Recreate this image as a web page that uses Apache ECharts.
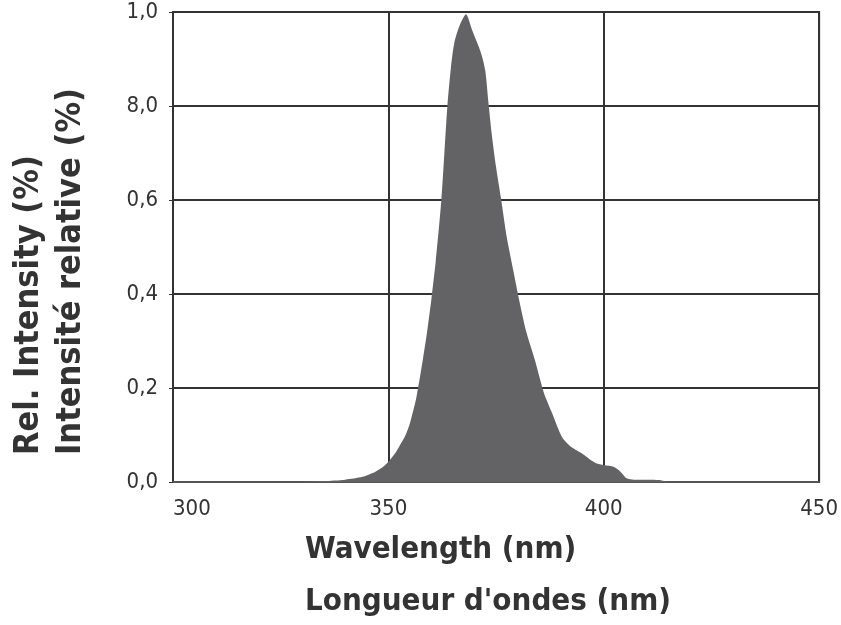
<!DOCTYPE html>
<html>
<head>
<meta charset="utf-8">
<script src="https://cdn.jsdelivr.net/npm/echarts@6/dist/echarts.min.js"></script>
<style>
  html, body { margin: 0; padding: 0; background: #fff; }
  #chart { width: 841px; height: 625px; }
</style>
</head>
<body>
<div id="chart"></div>
<script>
// spectrum
const wavelength = [330, 335, 340, 344, 347, 349, 350, 351.5, 352.5, 354, 355, 356.5, 358, 359, 360, 361, 362.3, 363, 363.7, 364.5, 365.3, 366.5, 368, 369.5, 371.5, 372.5, 373.2, 374, 375, 376.2, 377.5, 379, 380.3, 382, 384, 386.1, 388, 390.3, 392.4, 394.7, 396.5, 398.2, 400, 402.4, 404, 405.3, 407, 410, 413, 415, 450];
const intensity = [0, 0.002, 0.005, 0.011, 0.022, 0.034, 0.043, 0.06, 0.075, 0.1, 0.125, 0.18, 0.26, 0.32, 0.39, 0.47, 0.6, 0.7, 0.8, 0.88, 0.934, 0.97, 0.995, 0.96, 0.913, 0.875, 0.81, 0.74, 0.67, 0.6, 0.52, 0.45, 0.39, 0.32, 0.26, 0.19, 0.147, 0.096, 0.075, 0.062, 0.05, 0.04, 0.036, 0.032, 0.021, 0.008, 0.005, 0.005, 0.004, 0, 0];
const yTickLabels = ["0,0", "0,2", "0,4", "0,6", "8,0", "1,0"];
const yTitles = ["Rel. Intensity (%)", "Intensité relative (%)"];
const xTitles = ["Wavelength (nm)", "Longueur d'ondes (nm)"];

const font = "'Liberation Sans Narrow', 'DejaVu Sans Condensed', 'Roboto', sans-serif";
const points = wavelength.map((w, i) => [w, intensity[i]]);

const chart = echarts.init(document.getElementById("chart"));
const option = {
  animation: false,
  grid: {
    left: 173, right: 21, top: 12, bottom: 143,
    show: true, borderColor: "#333", borderWidth: 2
  },
  xAxis: {
    type: "value", min: 300, max: 450, interval: 50,
    axisLine: { show: true, lineStyle: { color: "#555", width: 2 } },
    axisTick: { show: false },
    splitLine: { show: true, lineStyle: { color: "#333", width: 2 } },
    axisLabel: {
      color: "#333", fontSize: 22, fontFamily: font, margin: 16,
      alignMinLabel: "left"
    }
  },
  yAxis: {
    type: "value", min: 0, max: 1, interval: 0.2,
    axisLine: { show: true, lineStyle: { color: "#333", width: 2 } },
    axisTick: { show: true, length: 4, lineStyle: { color: "#333" } },
    splitLine: { show: true, lineStyle: { color: "#333", width: 2 } },
    axisLabel: {
      color: "#333", fontSize: 22, fontFamily: font, margin: 15,
      formatter: (v) => yTickLabels[Math.round(v / 0.2)]
    }
  },
  graphic: [
    {
      type: "text", x: 12, y: 455, rotation: Math.PI / 2,
      style: { text: yTitles[0], fill: "#333", font: "bold 34px " + font, textVerticalAlign: "top" }
    },
    {
      type: "text", x: 54, y: 455, rotation: Math.PI / 2,
      style: { text: yTitles[1], fill: "#333", font: "bold 34px " + font, textVerticalAlign: "top" }
    },
    {
      type: "text", x: 305, y: 534,
      style: { text: xTitles[0], fill: "#333", font: "bold 31px " + font }
    },
    {
      type: "text", x: 305, y: 586,
      style: { text: xTitles[1], fill: "#333", font: "bold 31px " + font }
    }
  ],
  series: [
    {
      type: "line",
      data: points,
      showSymbol: false,
      smooth: 0.25,
      lineStyle: { width: 0 },
      areaStyle: { color: "#636365", opacity: 1 },
      z: 1
    }
  ]
};
chart.setOption(option);
</script>
</body>
</html>
